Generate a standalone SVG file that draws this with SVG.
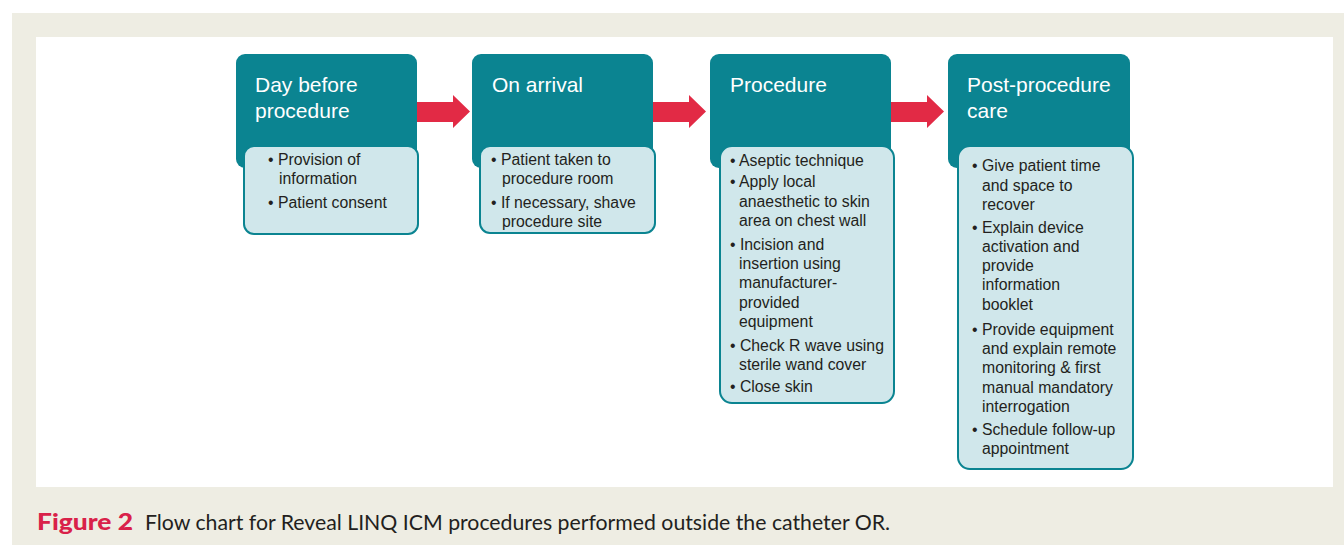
<svg xmlns="http://www.w3.org/2000/svg" width="1344" height="545" viewBox="0 0 1344 545">
<style>
.hdr{fill:#0b8491}
.body{fill:#d0e7eb;stroke:#0b8491;stroke-width:2}
.ht{font-family:"Liberation Sans",Arial,sans-serif;font-size:21px;fill:#ffffff}
.bt{font-family:"Liberation Sans",Arial,sans-serif;font-size:15.8px;fill:#231f20}
.arr{fill:#e22a45}
.cap{font-family:Lato,"Open Sans",sans-serif;font-size:21px;fill:#231f20}
</style>
<rect x="12" y="13" width="1332" height="532" fill="#eeede3"/>
<rect x="36" y="37" width="1297" height="450" fill="#ffffff"/>
<g id="connectors">
<polygon class="arr" points="417,102 453,102 453,95 470,111.5 453,128 453,122 417,122"/>
<polygon class="arr" points="653,102 689,102 689,95 706,111.5 689,128 689,122 653,122"/>
<polygon class="arr" points="891,102 927,102 927,95 944,111.5 927,128 927,122 891,122"/>
</g>
<g id="node1">
<rect class="hdr" x="236" y="54" width="181" height="114" rx="9"/>
<text class="ht" x="255" y="92">Day before</text>
<text class="ht" x="255" y="118">procedure</text>
<rect class="body" x="244" y="146" width="174" height="88" rx="10"/>
<text class="bt" x="268" y="165">• Provision of</text>
<text class="bt" x="279" y="184">information</text>
<text class="bt" x="268" y="208">• Patient consent</text>
</g>
<g id="node2">
<rect class="hdr" x="472" y="54" width="181" height="114" rx="9"/>
<text class="ht" x="492" y="92">On arrival</text>
<rect class="body" x="480" y="146" width="175" height="87" rx="10"/>
<text class="bt" x="491" y="165">• Patient taken to</text>
<text class="bt" x="502" y="184">procedure room</text>
<text class="bt" x="491" y="208">• If necessary, shave</text>
<text class="bt" x="502" y="227">procedure site</text>
</g>
<g id="node3">
<rect class="hdr" x="710" y="54" width="181" height="114" rx="9"/>
<text class="ht" x="730" y="92">Procedure</text>
<rect class="body" x="720" y="146" width="174" height="257" rx="12"/>
<text class="bt" x="730" y="166">• Aseptic technique</text>
<text class="bt" x="730" y="187">• Apply local</text>
<text class="bt" x="739" y="207">anaesthetic to skin</text>
<text class="bt" x="739" y="226">area on chest wall</text>
<text class="bt" x="730" y="250">• Incision and</text>
<text class="bt" x="739" y="269">insertion using</text>
<text class="bt" x="739" y="288">manufacturer-</text>
<text class="bt" x="739" y="308">provided</text>
<text class="bt" x="739" y="327">equipment</text>
<text class="bt" x="730" y="351">• Check R wave using</text>
<text class="bt" x="739" y="370">sterile wand cover</text>
<text class="bt" x="730" y="392">• Close skin</text>
</g>
<g id="node4">
<rect class="hdr" x="948" y="54" width="182" height="114" rx="9"/>
<text class="ht" x="967" y="92">Post-procedure</text>
<text class="ht" x="967" y="118">care</text>
<rect class="body" x="958" y="146" width="175" height="323" rx="12"/>
<text class="bt" x="972" y="171">• Give patient time</text>
<text class="bt" x="982" y="191">and space to</text>
<text class="bt" x="982" y="210">recover</text>
<text class="bt" x="972" y="233">• Explain device</text>
<text class="bt" x="982" y="252">activation and</text>
<text class="bt" x="982" y="271">provide</text>
<text class="bt" x="982" y="290">information</text>
<text class="bt" x="982" y="310">booklet</text>
<text class="bt" x="972" y="335">• Provide equipment</text>
<text class="bt" x="982" y="354">and explain remote</text>
<text class="bt" x="982" y="373">monitoring &amp; first</text>
<text class="bt" x="982" y="393">manual mandatory</text>
<text class="bt" x="982" y="412">interrogation</text>
<text class="bt" x="972" y="435">• Schedule follow-up</text>
<text class="bt" x="982" y="454">appointment</text>
</g>
<text class="cap" y="530"><tspan x="37" font-weight="900" font-size="23px" fill="#d92149" textLength="96" lengthAdjust="spacingAndGlyphs">Figure 2</tspan><tspan x="145" textLength="745" lengthAdjust="spacingAndGlyphs">Flow chart for Reveal LINQ ICM procedures performed outside the catheter OR.</tspan></text>
</svg>
